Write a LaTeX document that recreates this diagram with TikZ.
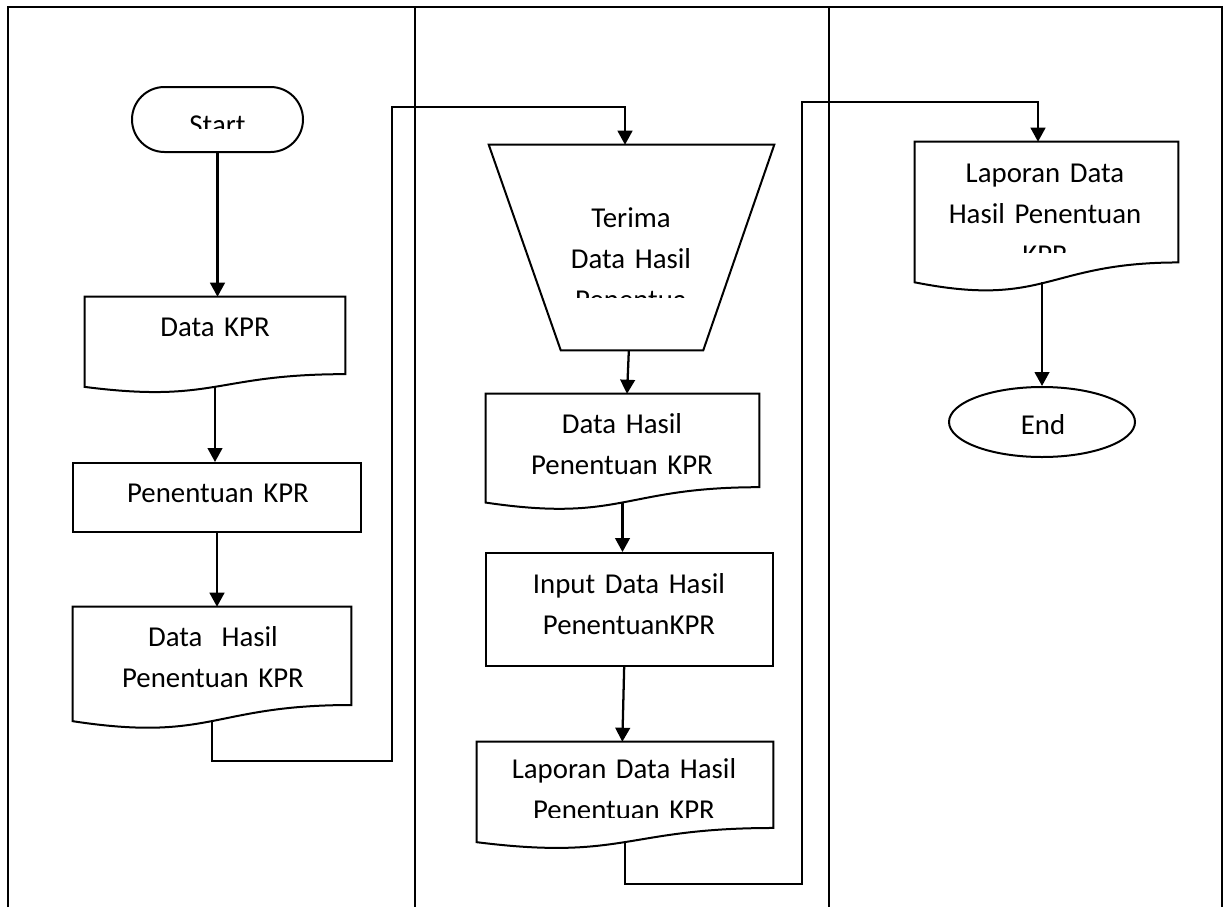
\documentclass[tikz,border=0pt]{standalone}
\usepackage{fontspec}
\setmainfont{Carlito}
\usetikzlibrary{arrows.meta,calc,shapes.misc,shapes.geometric}

% one drawing unit = one pixel of the final sheet
\newcommand\pxl{0.75pt}

\tikzset{
  rule/.style={line width=1.6pt},
  outl/.style={line width=1.5pt, line join=miter},
  box/.style 2 args={shape=rectangle, draw=none, inner sep=0pt,
    minimum width=#1*\pxl, minimum height=#2*\pxl},
  txt/.style={font=\fontsize{21.6}{30.75}\selectfont, align=center,
    text width=300*\pxl, inner sep=0pt, anchor=base},
  arr/.style={line width=1.7pt, -{Triangle[width=11pt,length=10.5pt]}},
}

% flowchart "document" symbol with a wavy lower edge, drawn on a named box
\newcommand\docshape[1]{%
  \draw[outl] (#1.north west) -- (#1.north east)
    -- ($(#1.north east)!0.802!(#1.south east)$)
    .. controls ($(#1.north)!0.802!(#1.south)$) and ($(#1.north)!1.1075!(#1.south)$)
    .. ($(#1.north west)!0.934!(#1.south west)$) -- cycle;
  \coordinate (#1-w) at ($(#1.north)!0.933!(#1.south)$);}

\begin{document}
\begin{tikzpicture}[x=0.75pt,y=-0.75pt]
\useasboundingbox (0,0) rectangle (1230,907);

% swimlane table
\draw[rule] (8,907) -- (8,7) -- (1222,7) -- (1222,907);
\draw[rule] (415,7) -- (415,907);
\draw[rule] (829,7) -- (829,907);

% ---------- first lane ----------
\node[draw, outl, rounded rectangle, inner sep=0pt,
      minimum width=171*\pxl, minimum height=65*\pxl] (start) at (217.5,119.5) {};
\begin{scope}
  \clip (132,80) rectangle (303,128);
  \node[txt] (t-start) at (217.5,134) {Start};
\end{scope}

\node[box={260}{96}] (dkpr) at (215,345) {};
\docshape{dkpr}
\node[txt] (t-dkpr) at (215,336) {Data KPR};

\node[box={288}{69}, draw, outl] (pkpr) at (217,497.5) {};
\node[txt] (t-pkpr) at (218,502) {Penentuan KPR};

\node[box={278}{122}] (dh1) at (212,668) {};
\docshape{dh1}
\node[txt] (t-dh1) at (213,646) {Data~ Hasil\\Penentuan KPR};

% ---------- second lane ----------
\node[box={285}{205}] (terima) at (631.5,247.5) {};
\draw[outl] (terima.north west) -- (terima.north east)
  -- ([xshift=-71*\pxl]terima.south east) -- ([xshift=72*\pxl]terima.south west) -- cycle;
\begin{scope}
  \clip (489,145) rectangle (774,297);
  \node[txt] (t-terima) at (631,227) {Terima\\Data Hasil\\Penentua};
\end{scope}

\node[box={273}{116}] (dh2) at (622.5,452) {};
\docshape{dh2}
\node[txt] (t-dh2) at (622,433) {Data Hasil\\Penentuan KPR};

\node[box={287}{113}, draw, outl] (inp) at (629.5,609.5) {};
\node[txt] (t-inp) at (629,593) {Input Data Hasil\\PenentuanKPR};

\node[box={296}{107}] (lap1) at (625,795.5) {};
\docshape{lap1}
\begin{scope}
  \clip (477,742) rectangle (773,817);
  \node[txt] (t-lap1) at (624,778) {Laporan Data Hasil\\Penentuan KPR};
\end{scope}

% ---------- third lane ----------
\node[box={263}{150}] (lap2) at (1046.5,217) {};
\docshape{lap2}
\begin{scope}
  \clip (915,142) rectangle (1178,252);
  \node[txt] (t-lap2) at (1045,182) {Laporan Data\\Hasil Penentuan\\KPR};
\end{scope}

\node[draw, outl, ellipse, inner sep=0pt,
      minimum width=186*\pxl, minimum height=70*\pxl] (endn) at (1042,422) {};
\node[txt] (t-end) at (1043,434) {End};

% ---------- connectors ----------
\coordinate (j1) at (392,761);
\coordinate (j2) at (625,107);
\coordinate (j3) at (802,884);
\coordinate (j4) at (1038,102);

\draw[arr] (start.south) -- (start.south |- dkpr.north);
\draw[arr] (dkpr-w) -- (dkpr-w |- pkpr.north);
\draw[arr] (pkpr.south) -- (pkpr.south |- dh1.north);
\draw[arr] (dh1-w) |- (j1) |- (j2) -- (j2 |- terima.north);
\draw[arr] ([xshift=-2pt]terima.south) -- ([xshift=3.4pt]dh2.north);
\draw[arr] (dh2-w) -- (dh2-w |- inp.north);
\draw[arr] ([xshift=-4pt]inp.south) -- ([xshift=-2pt]lap1.north);
\draw[arr] (lap1-w) |- (j3) |- (j4) -- (j4 |- lap2.north);
\draw[arr] (endn.north |- lap2-w) -- (endn.north);
\end{tikzpicture}
\end{document}
